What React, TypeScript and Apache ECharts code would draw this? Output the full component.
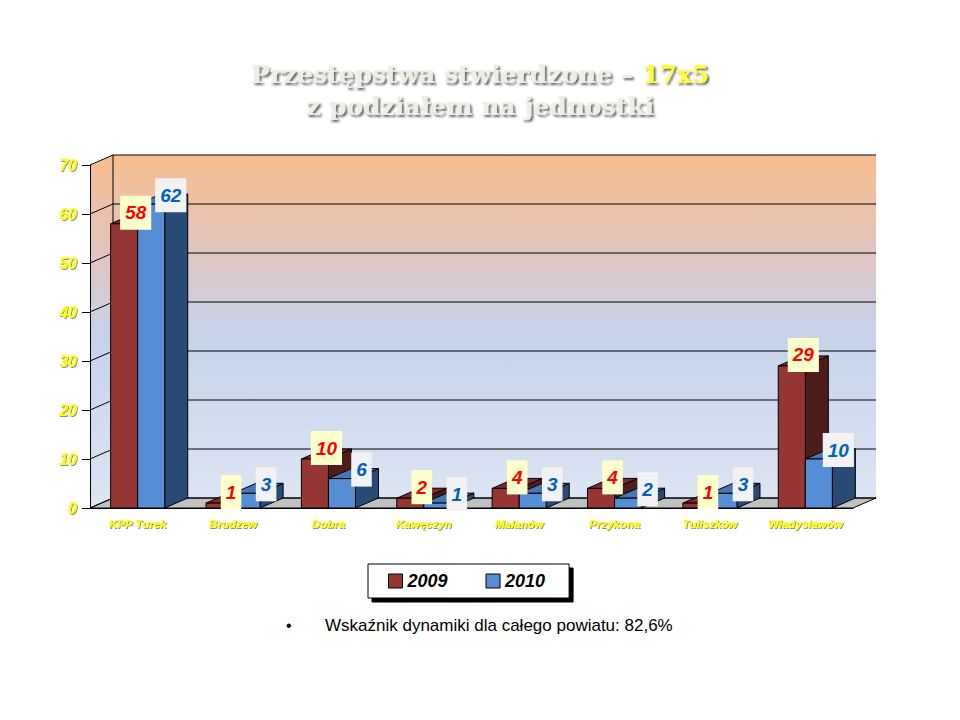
import React, { useEffect, useRef } from "react";
import * as echarts from "echarts";

const categories = ["KPP Turek", "Brudzew", "Dobra", "Kawęczyn", "Malanów", "Przykona", "Tuliszków", "Władysławów"];
const values2009 = [58, 1, 10, 2, 4, 4, 1, 29];
const values2010 = [62, 3, 6, 1, 3, 2, 3, 10];
const seriesNames = ["2009", "2010"];
const yMin = 0;
const yMax = 70;
const yInterval = 10;
const titleMain = "Przestępstwa stwierdzone – ";
const titleHighlight = "17x5";
const titleSub = "z podziałem na jednostki";
const footnote = "Wskaźnik dynamiki dla całego powiatu: 82,6%";

// 3D look constants (style only)
const DX = 23;
const DY = -10;
const BAR_RATIO = 0.2835;

const palette = [
  { front: "#963634", top: "#7B2B29", side: "#4E1D1B", labelBg: "#FFFFCC", labelColor: "#FF0000" },
  { front: "#558ED5", top: "#4677B8", side: "#294A74", labelBg: "#F2F2F2", labelColor: "#0060C0" },
];

const FONT = '"Liberation Sans", Arial, sans-serif';

function wallGradient() {
  return new echarts.graphic.LinearGradient(0, 0, 0, 1, [
    { offset: 0, color: "#F7BD8E" },
    { offset: 0.3, color: "#DEC6C4" },
    { offset: 0.52, color: "#C5D2EA" },
    { offset: 1, color: "#DDE5F3" },
  ]);
}

function renderWalls(params: any, api: any) {
  const cs = params.coordSys;
  const x = cs.x, y = cs.y, w = cs.width, h = cs.height;
  const children: any[] = [];
  children.push({
    type: "polygon",
    shape: { points: [[x, y], [x + DX, y + DY], [x + DX, y + h + DY], [x, y + h]] },
    style: { fill: wallGradient() },
  });
  children.push({
    type: "rect",
    shape: { x: x + DX, y: y + DY, width: w, height: h },
    style: { fill: wallGradient() },
  });
  children.push({
    type: "polygon",
    shape: { points: [[x, y + h], [x + DX, y + h + DY], [x + w + DX, y + h + DY], [x + w, y + h]] },
    style: { fill: "#C0C0C0", stroke: "#000", lineWidth: 1 },
  });
  for (let v = yMin; v <= yMax; v += yInterval) {
    const yy = api.coord([0, v])[1];
    children.push({
      type: "polyline",
      shape: { points: [[x, yy], [x + DX, yy + DY], [x + w + DX, yy + DY]] },
      style: { stroke: "#000", lineWidth: 1, fill: null },
    });
  }
  children.push({
    type: "line",
    shape: { x1: x + DX, y1: y + DY, x2: x + DX, y2: y + h + DY },
    style: { stroke: "#000", lineWidth: 1 },
  });
  return { type: "group", children };
}

function makeBarRenderer(idx: number) {
  const c = palette[idx];
  return (params: any, api: any) => {
    const i = api.value(0);
    const v = api.value(1);
    const base = api.coord([i, 0]);
    const top = api.coord([i, v]);
    const bw = api.size([1, 0])[0] * BAR_RATIO;
    const x0 = idx === 0 ? base[0] - bw : base[0];
    const x1 = x0 + bw;
    const yb = base[1];
    const yt = top[1];
    return {
      type: "group",
      children: [
        {
          type: "polygon",
          shape: { points: [[x1, yb], [x1 + DX, yb + DY], [x1 + DX, yt + DY], [x1, yt]] },
          style: { fill: c.side, stroke: "#000", lineWidth: 1 },
        },
        {
          type: "polygon",
          shape: { points: [[x0, yt], [x0 + DX, yt + DY], [x1 + DX, yt + DY], [x1, yt]] },
          style: { fill: c.top, stroke: "#000", lineWidth: 1 },
        },
        {
          type: "rect",
          shape: { x: x0, y: yt, width: bw, height: yb - yt },
          style: { fill: c.front, stroke: "#000", lineWidth: 1 },
        },
      ],
    };
  };
}

function makeLabelRenderer(idx: number) {
  const c = palette[idx];
  return (params: any, api: any) => {
    const i = api.value(0);
    const v = api.value(1);
    const base = api.coord([i, 0]);
    const top = api.coord([i, v]);
    const bw = api.size([1, 0])[0] * BAR_RATIO;
    const right = idx === 0 ? base[0] : base[0] + bw;
    const cx = right + (idx === 0 ? -2 : 6);
    const cy = top[1] + (idx === 0 ? -11 : -9);
    return {
      type: "text",
      x: cx,
      y: cy,
      style: {
        text: String(v),
        fill: c.labelColor,
        font: `italic bold 19px ${FONT}`,
        align: "center",
        verticalAlign: "middle",
        backgroundColor: c.labelBg,
        padding: [8, 5, 7, 5],
      },
    };
  };
}

export default function App() {
  const ref = useRef<HTMLDivElement>(null);
  useEffect(() => {
    if (!ref.current) return;
    const chart = echarts.init(ref.current, undefined, { renderer: "svg" });
    const toData = (arr: number[]) => arr.map((v, i) => [i, v]);
    const axisTextShadow = {
      textShadowColor: "rgba(0,0,0,0.45)",
      textShadowOffsetX: 1,
      textShadowOffsetY: 1,
      textShadowBlur: 1,
    };
    const titleFont = {
      fontFamily: '"DejaVu Serif", serif',
      fontWeight: "bold",
      fontSize: 25,
      lineHeight: 32,
      textShadowColor: "rgba(0,0,0,0.6)",
      textShadowBlur: 2,
      textShadowOffsetX: 2,
      textShadowOffsetY: 2,
    };
    chart.setOption({
      animation: false,
      backgroundColor: "#FFFFFF",
      title: {
        text: `${titleMain}{hl|${titleHighlight}}\n${titleSub}`,
        left: "center",
        top: 53,
        textStyle: {
          ...titleFont,
          color: "#EEEEE4",
          rich: {
            hl: { ...titleFont, color: "#FFFF33" },
          },
        },
      },
      legend: {
        data: seriesNames,
        left: 368,
        top: 564,
        orient: "horizontal",
        padding: [8, 24, 8, 20],
        itemGap: 38,
        itemWidth: 14,
        itemHeight: 14,
        icon: "rect",
        backgroundColor: "#FFFFFF",
        borderColor: "#000000",
        borderWidth: 1,
        shadowColor: "#000000",
        shadowBlur: 0,
        shadowOffsetX: 4,
        shadowOffsetY: 4,
        itemStyle: { borderColor: "#000", borderWidth: 1 },
        selectedMode: false,
        textStyle: { fontFamily: FONT, fontSize: 18, fontWeight: "bold", fontStyle: "italic", color: "#000" },
      },
      grid: { left: 90, top: 165, right: 107, bottom: 212 },
      xAxis: {
        type: "category",
        data: categories,
        z: 3,
        axisLine: { show: true, lineStyle: { color: "#000", width: 1 } },
        axisTick: { show: false },
        axisLabel: {
          margin: 10,
          interval: 0,
          color: "#FFFF00",
          fontFamily: FONT,
          fontSize: 11.5,
          fontWeight: "bold",
          fontStyle: "italic",
          ...axisTextShadow,
        },
        splitLine: { show: false },
      },
      yAxis: {
        type: "value",
        min: yMin,
        max: yMax,
        interval: yInterval,
        z: 3,
        axisLine: { show: true, lineStyle: { color: "#000", width: 1 } },
        axisTick: { show: true, length: 8, lineStyle: { color: "#000" } },
        axisLabel: {
          margin: 13,
          color: "#FFFF00",
          fontFamily: FONT,
          fontSize: 16,
          fontWeight: "bold",
          fontStyle: "italic",
          ...axisTextShadow,
        },
        splitLine: { show: false },
      },
      series: [
        {
          type: "custom",
          name: "walls",
          silent: true,
          z: 1,
          renderItem: renderWalls,
          data: [[0, 0]],
        },
        {
          type: "custom",
          name: seriesNames[0],
          z: 2,
          itemStyle: { color: palette[0].front },
          renderItem: makeBarRenderer(0),
          data: toData(values2009),
        },
        {
          type: "custom",
          name: seriesNames[1],
          z: 2,
          itemStyle: { color: palette[1].front },
          renderItem: makeBarRenderer(1),
          data: toData(values2010),
        },
        {
          type: "custom",
          name: "labels2009",
          z: 5,
          silent: true,
          renderItem: makeLabelRenderer(0),
          data: toData(values2009),
        },
        {
          type: "custom",
          name: "labels2010",
          z: 5,
          silent: true,
          renderItem: makeLabelRenderer(1),
          data: toData(values2010),
        },
      ],
      graphic: [
        {
          type: "text",
          left: 286,
          top: 617,
          style: { text: "•", fill: "#000", font: `16px ${FONT}` },
        },
        {
          type: "text",
          left: 325,
          top: 617,
          style: { text: footnote, fill: "#000", font: `17px ${FONT}` },
        },
      ],
    });
    return () => chart.dispose();
  }, []);
  return (
    <div
      ref={ref}
      style={{ position: "absolute", left: 0, top: 0, width: 960, height: 720 }}
    />
  );
}
